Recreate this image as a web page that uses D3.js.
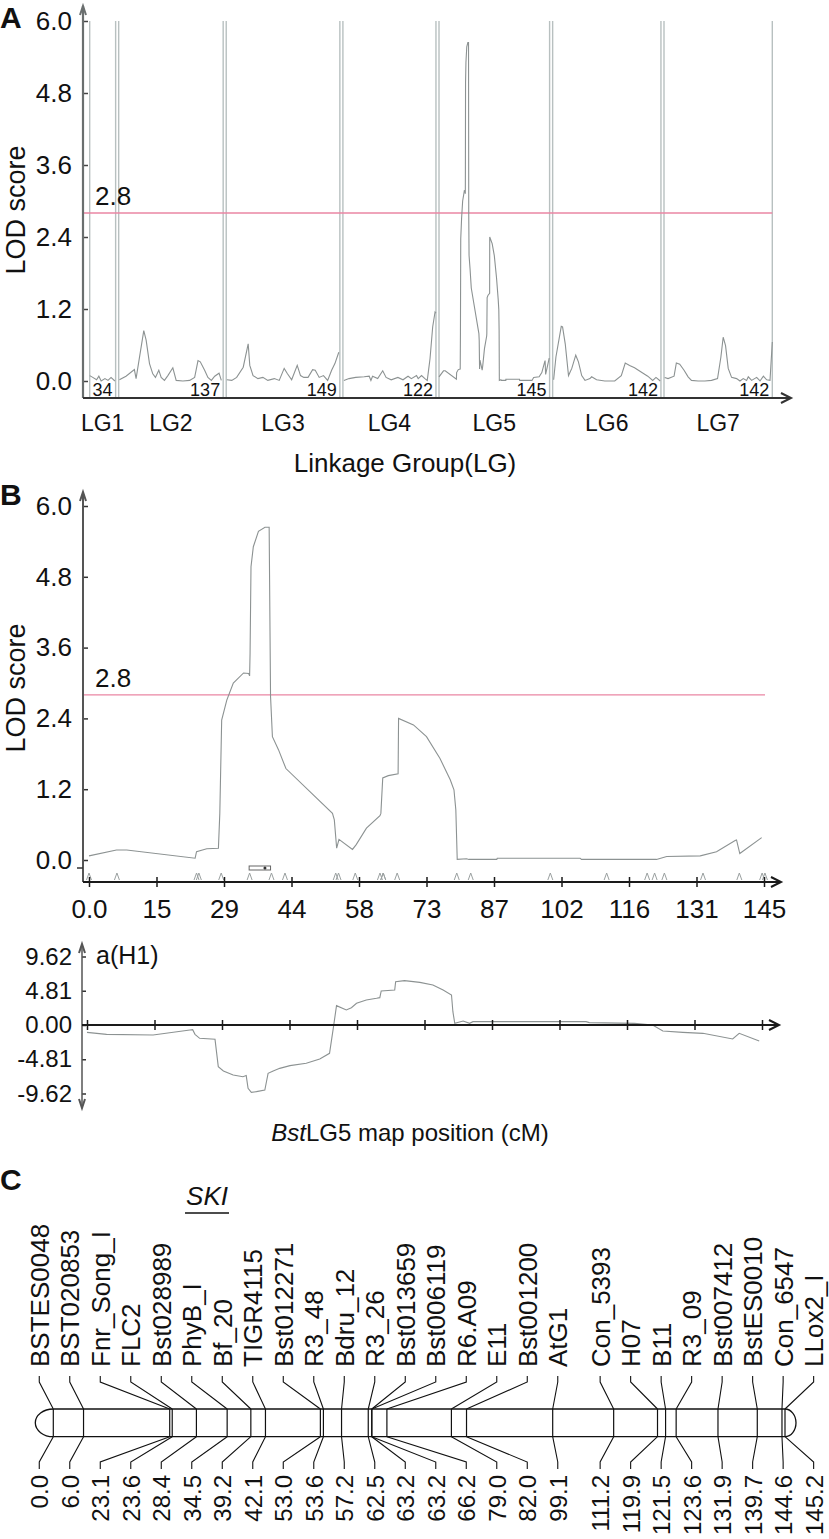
<!DOCTYPE html>
<html>
<head>
<meta charset="utf-8">
<script src="https://cdn.jsdelivr.net/npm/d3@7"></script>
<style>
  body { margin: 0; background: #fff; }
  text { font-family: "Liberation Sans", Arial, sans-serif; fill: #111; }
</style>
</head>
<body>
<script>
// ---------- data ----------
var lgNames = ["LG1", "LG2", "LG3", "LG4", "LG5", "LG6", "LG7"];
var lgLengths = [34, 137, 149, 122, 145, 142, 142];

// genome scan, [cM, LOD] per linkage group
var lodLG1 = [[0,0.09],[4,0.06],[9,0.02],[12,0.08],[15,0.0],[20,0.04],[24,0.01],[28,0.06],[33,0.0]];
var lodLG2 = [[0.9,0.02],[9.6,0.08],[20.6,0.19],[22.8,0.04],[32.9,0.84],[36,0.68],[40.4,0.29],[44.7,0.12],[48.2,0.06],[52.6,0.18],[55.7,0.06],[60,0.01],[64.5,0.09],[71,0.22],[75.4,0.01],[84.2,0],[93,0.01],[99.6,0.06],[104,0.34],[107,0.32],[112.7,0.18],[117,0.06],[121.5,0.01],[125.9,0.08],[131.6,0.13],[134.6,0.01]];
var lodLG3 = [[0.9,0.02],[7.3,0.01],[13.7,0.06],[22.3,0.23],[28.8,0.62],[30.9,0.26],[35.2,0.09],[41.6,0.04],[48.1,0.06],[54.5,0.01],[63.1,0.04],[69.5,0.01],[76,0.21],[80.3,0.12],[85.8,0.02],[93.1,0.26],[97.4,0.09],[101.7,0.06],[107.3,0.06],[113.3,0.19],[116.7,0.18],[121.9,0.06],[127.5,0.09],[133,0.01],[138.2,0.18],[142.5,0.29],[147.6,0.48]];
var lodLG4 = [[1.3,0.01],[8,0.04],[16.8,0.06],[27.9,0.07],[34.5,0.08],[36.7,0.01],[38.9,0.08],[45.6,0.04],[52.2,0.17],[56.6,0.06],[63.3,0.02],[72.1,0.06],[78.8,0.02],[85.4,0.08],[89.8,0.04],[96.5,0.09],[98.7,0.04],[103.1,0.09],[107.5,0.04],[110.6,0.01],[114.2,0.37],[117.7,0.9],[120.8,1.15],[122,1.13]];
var lodLG5 = [[0,0.07],[5.9,0.17],[8.1,0.17],[22.8,0.03],[23.1,0.14],[25.3,0.19],[27.8,0.2],[28.1,0.79],[28.5,2.37],[29.6,2.71],[31,3.0],[33.2,3.17],[34.3,3.16],[34.5,3.12],[34.6,3.5],[34.8,4.97],[35.3,5.31],[36.4,5.57],[37.8,5.64],[38.7,5.64],[39,2.77],[39.4,2.09],[40.7,1.87],[42.3,1.55],[52.3,0.79],[52.7,0.68],[53.2,0.2],[53.7,0.35],[56.6,0.18],[57.4,0.26],[59.6,0.54],[62.5,0.75],[62.7,0.79],[63.1,1.39],[64.3,1.43],[66.4,1.46],[66.5,2.4],[69.7,2.29],[72.5,2.09],[75.4,1.72],[77.6,1.36],[78.4,1.19],[78.8,0.85],[79.1,0.01],[81.1,0.02],[81.6,0.01],[87.6,0.01],[87.7,0.03],[105.5,0.03],[105.8,0.01],[121.9,0.01],[124.1,0.06],[131.3,0.07],[134.8,0.14],[138.8,0.33],[139.1,0.34],[139.8,0.11],[144.5,0.38]];
var lodLG6 = [[1.3,0.02],[4.3,0.4],[11.3,0.91],[13,0.9],[16.5,0.62],[20.8,0.09],[25.1,0.21],[30.3,0.43],[33.8,0.32],[38.1,0.09],[42.4,0.01],[48.9,0.04],[51.1,0.07],[57.6,0.02],[68.4,0],[81.4,0],[90,0.09],[95.2,0.3],[100.9,0.26],[107.4,0.22],[116,0.15],[124.7,0.08],[131.2,0.01],[135.5,0.06],[141.1,0]];
var lodLG7 = [[0.9,0.06],[5.3,0.04],[13.2,0.08],[16.2,0.3],[20.6,0.28],[26.3,0.18],[31.6,0.07],[36,0.01],[44.7,0],[53.5,0],[62.3,0.01],[70.2,0.04],[74.6,0.4],[77.6,0.73],[80.7,0.59],[84.2,0.21],[88.6,0.06],[95.2,0.04],[99.6,0],[103.9,0.04],[108.3,0.01],[110.5,0.07],[114.9,0.01],[121.5,0.06],[125.9,0],[130.3,0.08],[134.6,0.02],[139,0.01],[142,0.65]];
var lodByGroup = [lodLG1, lodLG2, lodLG3, lodLG4, lodLG5, lodLG6, lodLG7];

var lodTicks = [0, 1.2, 2.4, 3.6, 4.8, 6.0];
var threshold = 2.8;

// LG5 detail
var lg5Ticks = [0, 14.5, 29, 43.5, 58, 72.5, 87, 101.5, 116, 130.5, 145];
var lg5TickLabels = ["0.0", "15", "29", "44", "58", "73", "87", "102", "116", "131", "145"];
var supportInterval = [34.4, 39.0];
var qtlPeak = 37.8;

// additive effect a(H1), [cM, effect]
var effectLG5 = [[0,-1.03],[4.2,-1.31],[14.2,-1.4],[22.1,-0.7],[22.7,-0.66],[23.2,-1.31],[24.2,-1.87],[27.5,-2.01],[28.2,-5.85],[29.3,-6.46],[31.4,-7.02],[33.5,-7.26],[34.2,-7.1],[34.6,-8.9],[35.3,-9.46],[36.4,-9.36],[38.2,-9.13],[38.9,-6.79],[40,-6.46],[41.4,-6.09],[43.6,-5.71],[47.1,-5.38],[50,-4.78],[52.1,-3.98],[52.9,-0.47],[53.6,2.72],[55.7,2.11],[56.8,2.43],[57.9,3.04],[60,3.51],[62.2,3.75],[62.9,3.84],[63.2,4.78],[66.1,4.92],[66.3,6.09],[68.2,6.23],[71.5,5.99],[74.3,5.62],[76.5,4.92],[78.3,4.21],[78.6,1.87],[79,0.23],[80.8,0.56],[82.2,0.23],[82.9,0.47],[107.2,0.47],[107.9,0.33],[117.6,0.23],[121.5,0],[123.7,-0.84],[128,-1.03],[132.3,-1.17],[138.7,-1.97],[140.1,-1.17],[144.4,-2.25]];
var effectTicks = [9.62, 4.81, 0, -4.81, -9.62];
var effectTickLabels = ["9.62", "4.81", "0.00", "-4.81", "-9.62"];

// linkage map of BstLG5
var markerNames = ["BSTES0048","BST020853","Fnr_Song_I","FLC2","Bst028989","PhyB_I","Bf_20","TIGR4115","Bst012271","R3_48","Bdru_12","R3_26","Bst013659","Bst006119","R6.A09","E11","Bst001200","AtG1","Con_5393","H07","B11","R3_09","Bst007412","BstES0010","Con_6547","LLox2_I"];
var markerPos = [0.0, 6.0, 23.1, 23.6, 28.4, 34.5, 39.2, 42.1, 53.0, 53.6, 57.2, 62.5, 63.2, 63.2, 66.2, 79.0, 82.0, 99.1, 111.2, 119.9, 121.5, 123.6, 131.9, 139.7, 144.6, 145.2];
var markerLabels = ["0.0","6.0","23.1","23.6","28.4","34.5","39.2","42.1","53.0","53.6","57.2","62.5","63.2","63.2","66.2","79.0","82.0","99.1","111.2","119.9","121.5","123.6","131.9","139.7","144.6","145.2"];

// ---------- drawing ----------
var width = 829, height = 1539;
var svg = d3.select("body").append("svg")
    .attr("width", width)
    .attr("height", height);

var curveColor = "#8c9292",
    groupLineColor = "#b8c0c0",
    threshColor = "#ea86a3",
    axisColor = "#1a1a1a";

function arrowHead(g, x, y, dir, color) {
  // open chevron arrow head
  var d;
  if (dir == "right") d = "M" + (x - 10) + "," + (y - 5) + "L" + x + "," + y + "L" + (x - 10) + "," + (y + 5);
  if (dir == "up") d = "M" + (x - 3) + "," + (y + 9) + "L" + x + "," + y + "L" + (x + 3) + "," + (y + 9);
  if (dir == "down") d = "M" + (x - 3) + "," + (y - 9) + "L" + x + "," + y + "L" + (x + 3) + "," + (y - 9);
  g.append("path").attr("d", d).attr("fill", "none")
    .attr("stroke", color).attr("stroke-width", 2);
}

function panelLetter(t, x, y) {
  svg.append("text").attr("x", x).attr("y", y)
    .attr("font-size", 30).attr("font-weight", "bold").text(t);
}

// ===== Panel A =====
var gA = svg.append("g");
var gapA = 4;
var lgStart = [];
var acc = 0;
lgLengths.forEach(function(len) { lgStart.push(acc); acc += len + gapA; });
var xA = d3.scaleLinear().domain([0, acc - gapA]).range([89.7, 772.3]);
var yA = d3.scaleLinear().domain([0, 6]).range([381, 21]);
var axisYA = 398;

// group boundaries
lgLengths.forEach(function(len, i) {
  [lgStart[i], lgStart[i] + len].forEach(function(v) {
    gA.append("line")
      .attr("x1", xA(v)).attr("x2", xA(v))
      .attr("y1", yA(6)).attr("y2", axisYA)
      .attr("stroke", groupLineColor).attr("stroke-width", 1.4);
  });
});

// threshold
gA.append("line")
  .attr("x1", 83).attr("x2", xA(acc - gapA))
  .attr("y1", yA(threshold)).attr("y2", yA(threshold))
  .attr("stroke", threshColor).attr("stroke-width", 1.3);
gA.append("text").attr("x", 95).attr("y", yA(threshold) - 8)
  .attr("font-size", 26).text("2.8");

// curves
lodByGroup.forEach(function(pts, i) {
  var line = d3.line()
    .x(function(d) { return xA(lgStart[i] + d[0]); })
    .y(function(d) { return yA(d[1]); });
  gA.append("path").datum(pts).attr("d", line)
    .attr("fill", "none").attr("stroke", curveColor).attr("stroke-width", 1.1);
});

// y axis
var yAxisA = gA.append("g").attr("transform", "translate(83,0)")
  .call(d3.axisLeft(yA).tickValues(lodTicks).tickFormat(d3.format(".1f")).tickSize(5).tickPadding(6));
yAxisA.select(".domain").remove();
yAxisA.selectAll(".tick line").attr("x2", 5).attr("stroke", "#444").attr("stroke-width", 1.5);
yAxisA.selectAll(".tick text").attr("font-size", 26).attr("font-family", "Liberation Sans, Arial, sans-serif").attr("fill", "#111");
gA.append("line").attr("x1", 83).attr("x2", 83).attr("y1", 6).attr("y2", axisYA)
  .attr("stroke", "#6a6f6f").attr("stroke-width", 2.2);
arrowHead(gA, 83, 6, "up", "#6a6f6f");

// x axis
gA.append("line").attr("x1", 83).attr("x2", 790).attr("y1", axisYA).attr("y2", axisYA)
  .attr("stroke", "#333").attr("stroke-width", 2);
arrowHead(gA, 791, axisYA, "right", "#333");

// group lengths & names
lgLengths.forEach(function(len, i) {
  gA.append("text").attr("x", xA(lgStart[i] + len) - 3).attr("y", axisYA - 2)
    .attr("text-anchor", "end").attr("font-size", 18).text(len);
  gA.append("text").attr("x", xA(lgStart[i] + len / 2)).attr("y", 431)
    .attr("text-anchor", "middle").attr("font-size", 23).text(lgNames[i]);
});
gA.append("text").attr("x", 405).attr("y", 472).attr("text-anchor", "middle")
  .attr("font-size", 26).text("Linkage Group(LG)");
gA.append("text").attr("transform", "translate(25," + 210 + ") rotate(-90)")
  .attr("text-anchor", "middle").attr("font-size", 27).text("LOD score");
panelLetter("A", 0, 28);

// ===== Panel B (LOD on LG5) =====
var gB = svg.append("g");
var xB = d3.scaleLinear().domain([0, 145]).range([89, 764]);
var yB = d3.scaleLinear().domain([0, 6]).range([860, 506]);
var axisYB = 882;

gB.append("line")
  .attr("x1", 83).attr("x2", 765)
  .attr("y1", yB(threshold)).attr("y2", yB(threshold))
  .attr("stroke", threshColor).attr("stroke-width", 1.3);
gB.append("text").attr("x", 95).attr("y", yB(threshold) - 8)
  .attr("font-size", 26).text("2.8");

gB.append("path").datum(lodLG5)
  .attr("d", d3.line().x(function(d) { return xB(d[0]); }).y(function(d) { return yB(d[1]); }))
  .attr("fill", "none").attr("stroke", curveColor).attr("stroke-width", 1.1);

// marker carets
gB.selectAll(".caret").data(markerPos).enter().append("path")
  .attr("class", "caret")
  .attr("d", function(d) { var x = xB(d); return "M" + (x - 2.5) + "," + (axisYB - 2) + "L" + x + "," + (axisYB - 9) + "L" + (x + 2.5) + "," + (axisYB - 2); })
  .attr("fill", "none").attr("stroke", "#9aa0a0").attr("stroke-width", 1);

// support interval
gB.append("rect")
  .attr("x", xB(supportInterval[0])).attr("y", 866)
  .attr("width", xB(supportInterval[1]) - xB(supportInterval[0])).attr("height", 4)
  .attr("fill", "none").attr("stroke", "#666").attr("stroke-width", 1);
gB.append("circle").attr("cx", xB(qtlPeak)).attr("cy", 868).attr("r", 1.5).attr("fill", "#333");

var yAxisB = gB.append("g").attr("transform", "translate(83,0)")
  .call(d3.axisLeft(yB).tickValues(lodTicks).tickFormat(d3.format(".1f")).tickSize(5).tickPadding(6));
yAxisB.select(".domain").remove();
yAxisB.selectAll(".tick line").attr("x2", 5).attr("stroke", "#333").attr("stroke-width", 1.5);
yAxisB.selectAll(".tick text").attr("font-size", 26).attr("font-family", "Liberation Sans, Arial, sans-serif").attr("fill", "#111");
gB.append("line").attr("x1", 83).attr("x2", 83).attr("y1", 492).attr("y2", axisYB)
  .attr("stroke", "#555").attr("stroke-width", 2);
arrowHead(gB, 83, 492, "up", "#555");
gB.append("line").attr("x1", 77).attr("x2", 83).attr("y1", 868).attr("y2", 868)
  .attr("stroke", "#333").attr("stroke-width", 1.5);

var xAxisB = gB.append("g").attr("transform", "translate(0," + axisYB + ")")
  .call(d3.axisBottom(xB).tickValues(lg5Ticks).tickFormat(function(d, i) { return lg5TickLabels[i]; }).tickSize(5));
xAxisB.select(".domain").remove();
xAxisB.selectAll(".tick line").attr("y1", -5).attr("y2", 5).attr("stroke", axisColor).attr("stroke-width", 1.5);
xAxisB.selectAll(".tick text").attr("y", 36).attr("dy", null).attr("font-size", 26)
  .attr("font-family", "Liberation Sans, Arial, sans-serif").attr("fill", "#111");
gB.append("line").attr("x1", 83).attr("x2", 780).attr("y1", axisYB).attr("y2", axisYB)
  .attr("stroke", axisColor).attr("stroke-width", 2);
arrowHead(gB, 781, axisYB, "right", axisColor);

gB.append("text").attr("transform", "translate(25," + 688 + ") rotate(-90)")
  .attr("text-anchor", "middle").attr("font-size", 27).text("LOD score");
panelLetter("B", 0, 505);

// ===== additive effect =====
var gE = svg.append("g");
var yE = d3.scaleLinear().domain([-9.62, 9.62]).range([1093.5, 956.5]);
var axisYE = yE(0);

gE.append("path").datum(effectLG5)
  .attr("d", d3.line().x(function(d) { return xB(d[0]) - 2; }).y(function(d) { return yE(d[1]); }))
  .attr("fill", "none").attr("stroke", curveColor).attr("stroke-width", 1.1);

var yAxisE = gE.append("g").attr("transform", "translate(82,0)")
  .call(d3.axisLeft(yE).tickValues(effectTicks).tickFormat(function(d, i) { return effectTickLabels[i]; }).tickSize(4).tickPadding(6));
yAxisE.select(".domain").remove();
yAxisE.selectAll(".tick line").attr("x2", 4).attr("stroke", "#333").attr("stroke-width", 1.5);
yAxisE.selectAll(".tick text").attr("font-size", 24).attr("font-family", "Liberation Sans, Arial, sans-serif").attr("fill", "#111");
gE.append("line").attr("x1", 82).attr("x2", 82).attr("y1", 944).attr("y2", 1108)
  .attr("stroke", "#555").attr("stroke-width", 1.5);
arrowHead(gE, 82, 944, "up", "#555");
arrowHead(gE, 82, 1108, "down", "#555");

var xAxisE = gE.append("g").attr("transform", "translate(-2," + axisYE + ")")
  .call(d3.axisBottom(xB).tickValues(lg5Ticks).tickFormat("").tickSize(5));
xAxisE.select(".domain").remove();
xAxisE.selectAll(".tick line").attr("y1", -5).attr("y2", 5).attr("stroke", axisColor).attr("stroke-width", 1.5);
gE.append("line").attr("x1", 82).attr("x2", 778).attr("y1", axisYE).attr("y2", axisYE)
  .attr("stroke", axisColor).attr("stroke-width", 2);
arrowHead(gE, 779, axisYE, "right", axisColor);

gE.append("text").attr("x", 96).attr("y", 964).attr("font-size", 25).text("a(H1)");
var xt = gE.append("text").attr("x", 410).attr("y", 1141).attr("text-anchor", "middle").attr("font-size", 24);
xt.append("tspan").attr("font-style", "italic").text("Bst");
xt.append("tspan").text("LG5 map position (cM)");

// ===== Panel C: linkage map =====
var gC = svg.append("g");
var xC = d3.scaleLinear().domain([0, 145.2]).range([53.3, 785]);
var barTop = 1409, barBot = 1436.7, barR = (barBot - barTop) / 2;

// spread label columns: isotonic fit of (ideal - gap*i), keeps order and min gap
function spreadLabels(ideal, gap) {
  var blocks = [];
  ideal.forEach(function(v, i) {
    blocks.push({ sum: v - gap * i, n: 1 });
    while (blocks.length > 1) {
      var b = blocks[blocks.length - 1], a = blocks[blocks.length - 2];
      if (a.sum / a.n <= b.sum / b.n) break;
      a.sum += b.sum; a.n += b.n; blocks.pop();
    }
  });
  var out = [], i = 0;
  blocks.forEach(function(b) {
    for (var k = 0; k < b.n; k++, i++) out.push(b.sum / b.n + gap * i);
  });
  return out;
}
var cols = spreadLabels(markerPos.map(function(d) { return xC(d); }), 30.5);

// chromosome outline
gC.append("line").attr("x1", xC(0)).attr("x2", xC(145.2)).attr("y1", barTop).attr("y2", barTop)
  .attr("stroke", "#111").attr("stroke-width", 1.3);
gC.append("line").attr("x1", xC(0)).attr("x2", xC(145.2)).attr("y1", barBot).attr("y2", barBot)
  .attr("stroke", "#111").attr("stroke-width", 1.3);
gC.append("path")
  .attr("d", "M" + xC(0) + "," + barTop + " A18," + barR + " 0 0 0 " + xC(0) + "," + barBot)
  .attr("fill", "none").attr("stroke", "#111").attr("stroke-width", 1.3);
gC.append("path")
  .attr("d", "M" + xC(145.2) + "," + barTop + " A11," + barR + " 0 0 1 " + xC(145.2) + "," + barBot)
  .attr("fill", "none").attr("stroke", "#111").attr("stroke-width", 1.3);

markerPos.forEach(function(p, i) {
  var mx = xC(p), c = cols[i];
  gC.append("line").attr("x1", mx).attr("x2", mx).attr("y1", barTop).attr("y2", barBot)
    .attr("stroke", "#111").attr("stroke-width", 1.2);
  gC.append("path")
    .attr("d", "M" + c + ",1376L" + c + ",1382L" + mx + "," + barTop)
    .attr("fill", "none").attr("stroke", "#111").attr("stroke-width", 1.1);
  gC.append("path")
    .attr("d", "M" + mx + "," + barBot + "L" + c + ",1462L" + c + ",1469")
    .attr("fill", "none").attr("stroke", "#111").attr("stroke-width", 1.1);
  gC.append("text").attr("transform", "translate(" + (c + 9.5) + ",1367) rotate(-90)")
    .attr("font-size", 26).text(markerNames[i]);
  gC.append("text").attr("transform", "translate(" + (c + 9) + ",1475) rotate(-90)")
    .attr("text-anchor", "end").attr("font-size", 24).text(markerLabels[i]);
});

// SKI locus annotation over PhyB_I / Bf_20
var skiX = (cols[5] + cols[6]) / 2;
gC.append("text").attr("x", skiX).attr("y", 1205).attr("text-anchor", "middle")
  .attr("font-size", 26).attr("font-style", "italic").text("SKI");
gC.append("line").attr("x1", skiX - 22).attr("x2", skiX + 22).attr("y1", 1213).attr("y2", 1213)
  .attr("stroke", "#111").attr("stroke-width", 1.5);
panelLetter("C", 0, 1190);
</script>
</body>
</html>
